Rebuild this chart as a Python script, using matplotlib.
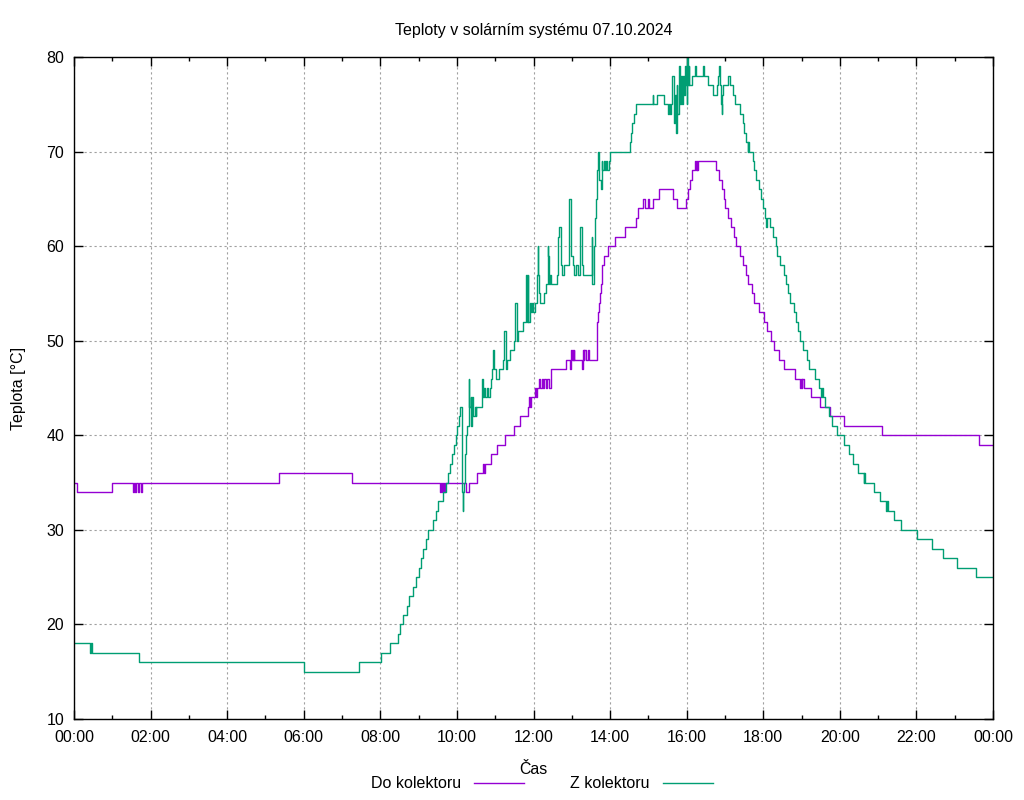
import numpy as np
import matplotlib
matplotlib.use("Agg")
import matplotlib.pyplot as plt
from matplotlib.ticker import MultipleLocator, FuncFormatter

# cas v hodinach (zacatek kroku) a teplota [°C]
do_h = [0.00, 0.08, 1.00, 1.53, 1.56, 1.60, 1.63, 1.67, 1.69, 1.75, 1.77,
        5.36, 7.27, 9.55, 9.58, 9.61, 9.63, 9.66, 9.68, 10.25, 10.32, 10.53, 10.69,
        10.71, 10.73, 10.89, 11.05, 11.26, 11.49, 11.65, 11.86, 11.88, 11.90, 11.93,
        12.05, 12.07, 12.09, 12.15, 12.18, 12.21, 12.24, 12.28, 12.32, 12.36, 12.40,
        12.45, 12.84, 12.95, 12.98, 13.00, 13.02, 13.04, 13.06, 13.07, 13.26, 13.29,
        13.31, 13.33, 13.36, 13.43, 13.46, 13.65, 13.67, 13.69, 13.71, 13.73, 13.76,
        13.80, 13.83, 13.95, 14.13, 14.39, 14.68, 14.72, 14.85, 14.91, 14.98, 15.02,
        15.11, 15.29, 15.64, 15.74, 15.99, 16.04, 16.09, 16.13, 16.22, 16.24, 16.26,
        16.28, 16.30, 16.77, 16.85, 16.91, 16.98, 17.01, 17.09, 17.15, 17.24, 17.28,
        17.38, 17.46, 17.55, 17.59, 17.70, 17.76, 17.90, 18.02, 18.11, 18.19, 18.28,
        18.42, 18.55, 18.83, 18.96, 18.98, 19.00, 19.02, 19.07, 19.25, 19.48, 19.74,
        20.12, 21.09, 23.64, 24.00]
do_t = [35, 34, 35, 34, 35, 34, 35, 34, 35, 34, 35,
        36, 35, 34, 35, 34, 35, 34, 35, 34, 35, 36, 37,
        36, 37, 38, 39, 40, 41, 42, 43, 44, 43, 44,
        45, 44, 45, 46, 45, 46, 45, 46, 45, 46, 45,
        47, 48, 47, 49, 48, 49, 48, 49, 48, 47, 49,
        48, 49, 48, 49, 48, 50, 52, 53, 54, 55, 56,
        58, 59, 60, 61, 62, 63, 64, 65, 64, 65, 64,
        65, 66, 65, 64, 65, 66, 67, 68, 69, 68, 69,
        68, 69, 68, 67, 66, 65, 64, 63, 62, 61, 60,
        59, 58, 57, 56, 55, 54, 53, 52, 51, 50, 49,
        48, 47, 46, 45, 46, 45, 46, 45, 44, 43, 42,
        41, 40, 39, 39]

z_h = [0.00, 0.43, 0.45, 0.47, 1.71, 6.00, 7.45, 8.01, 8.24, 8.45, 8.52, 8.60, 8.69,
       8.76, 8.86, 8.93, 9.01, 9.06, 9.12, 9.19, 9.25, 9.38, 9.45, 9.51, 9.63, 9.72,
       9.78, 9.82, 9.86, 9.92, 9.97, 10.01, 10.05, 10.08, 10.14, 10.15, 10.17, 10.19,
       10.22, 10.25, 10.27, 10.31, 10.32, 10.36, 10.38, 10.40, 10.43, 10.46, 10.49,
       10.51, 10.65, 10.68, 10.71, 10.73, 10.78, 10.80, 10.86, 10.89, 10.92, 10.95,
       10.98, 11.02, 11.09, 11.20, 11.23, 11.27, 11.29, 11.32, 11.39, 11.49, 11.52,
       11.56, 11.59, 11.73, 11.80, 11.83, 11.85, 11.86, 11.91, 11.93, 11.97, 11.99,
       12.04, 12.08, 12.11, 12.13, 12.15, 12.18, 12.28, 12.33, 12.37, 12.39, 12.41,
       12.44, 12.47, 12.62, 12.65, 12.67, 12.71, 12.75, 12.80, 12.93, 12.97, 12.99,
       13.02, 13.07, 13.11, 13.15, 13.21, 13.26, 13.30, 13.52, 13.54, 13.58, 13.61,
       13.63, 13.66, 13.69, 13.72, 13.75, 13.78, 13.80, 13.83, 13.87, 13.90, 13.93,
       13.96, 14.01, 14.52, 14.55, 14.58, 14.63, 14.67, 15.11, 15.13, 15.22, 15.41,
       15.52, 15.55, 15.57, 15.60, 15.63, 15.66, 15.69, 15.71, 15.74, 15.76, 15.79,
       15.82, 15.84, 15.87, 15.90, 15.92, 15.95, 15.97, 16.00, 16.02, 16.03, 16.05,
       16.07, 16.13, 16.22, 16.24, 16.42, 16.44, 16.57, 16.70, 16.79, 16.83, 16.85,
       16.87, 16.89, 16.91, 16.92, 16.96, 17.07, 17.13, 17.20, 17.27, 17.38, 17.46,
       17.50, 17.55, 17.59, 17.61, 17.63, 17.72, 17.76, 17.81, 17.89, 17.94, 18.00,
       18.05, 18.08, 18.10, 18.18, 18.26, 18.32, 18.37, 18.44, 18.53, 18.60, 18.64,
       18.70, 18.79, 18.85, 18.90, 18.96, 19.05, 19.13, 19.19, 19.35, 19.46, 19.52,
       19.54, 19.56, 19.61, 19.72, 19.80, 19.92, 20.12, 20.24, 20.35, 20.48, 20.62,
       20.64, 20.66, 20.89, 21.05, 21.21, 21.23, 21.25, 21.42, 21.59, 22.01, 22.40,
       22.69, 23.05, 23.56, 24.00]
z_t = [18, 17, 18, 17, 16, 15, 16, 17, 18, 19, 20, 21, 22,
       23, 24, 25, 26, 27, 28, 29, 30, 31, 32, 33, 34, 35,
       36, 37, 38, 39, 40, 41, 42, 43, 34, 32, 34, 35,
       38, 40, 41, 46, 43, 44, 41, 44, 42, 43, 42,
       43, 46, 44, 45, 44, 45, 44, 45, 46, 47, 49,
       47, 46, 47, 48, 51, 49, 47, 48, 49, 50, 54,
       50, 51, 52, 57, 52, 57, 52, 54, 53, 54, 53,
       54, 57, 60, 57, 55, 54, 55, 56, 60, 59, 56,
       57, 56, 57, 61, 62, 58, 57, 58, 65, 64, 59,
       58, 57, 58, 57, 62, 58, 57, 61, 56, 60, 63,
       65, 68, 70, 67, 66, 69, 68, 69, 68, 69, 68,
       69, 70, 71, 72, 73, 74, 75, 76, 75, 76, 75,
       74, 75, 74, 75, 78, 73, 76, 72, 77, 74, 79,
       75, 78, 75, 78, 76, 79, 77, 75, 80, 77, 79,
       77, 78, 79, 78, 79, 78, 77, 76, 77, 78, 79,
       77, 75, 74, 76, 77, 78, 77, 76, 75, 74, 73,
       72, 71, 70, 71, 70, 69, 68, 67, 66, 65, 64,
       63, 62, 63, 62, 61, 60, 59, 58, 57, 56, 55,
       54, 53, 52, 51, 50, 49, 48, 47, 46, 45, 44,
       45, 44, 43, 42, 41, 40, 39, 38, 37, 36, 35,
       36, 35, 34, 33, 32, 33, 32, 31, 30, 29, 28,
       27, 26, 25, 25]

plt.rcParams['font.family'] = ['Liberation Sans', 'DejaVu Sans']
plt.rcParams['font.size'] = 11.5

fig = plt.figure(figsize=(10.24, 8.0), dpi=100)
ax = fig.add_axes([74/1024, 1 - 719/800, (993 - 74)/1024, (719 - 57)/800])

ax.plot(do_h, do_t, drawstyle='steps-post', color='#9400d3', lw=1.0, label='Do kolektoru')
ax.plot(z_h, z_t, drawstyle='steps-post', color='#009e73', lw=1.0, label='Z kolektoru')

ax.set_xlim(0, 24)
ax.set_ylim(10, 80)
ax.xaxis.set_major_locator(MultipleLocator(2))
ax.xaxis.set_minor_locator(MultipleLocator(1))
ax.yaxis.set_major_locator(MultipleLocator(10))
ax.xaxis.set_major_formatter(FuncFormatter(lambda v, p: "%02d:00" % (int(round(v)) % 24)))

ax.tick_params(which='both', direction='in', top=True, right=True, colors='black', labelsize=11.5)
ax.tick_params(axis='x', which='major', length=6.5, width=1.0, pad=8)
ax.tick_params(axis='y', which='major', length=6.5, width=1.0, pad=7)
ax.tick_params(which='minor', length=3.2, width=1.0)
for s in ax.spines.values():
    s.set_linewidth(1.0)

ax.grid(True, which='major', color='#a0a0a0', linestyle=(0, (2, 2.5)), linewidth=0.8)
ax.set_axisbelow(True)

ax.set_title("Teploty v solárním systému 07.10.2024", fontsize=11.5, pad=16)
ax.set_ylabel("Teplota [°C]", fontsize=11.5, labelpad=15)
ax.set_xlabel("Čas", fontsize=11.5, labelpad=12)

fig.legend(loc='center', bbox_to_anchor=(0.529, 0.020), ncol=2, frameon=False,
           markerfirst=False, handlelength=3.1, handletextpad=0.85, columnspacing=2.9,
           fontsize=11.5)

fig.savefig("out.png", dpi=100)
